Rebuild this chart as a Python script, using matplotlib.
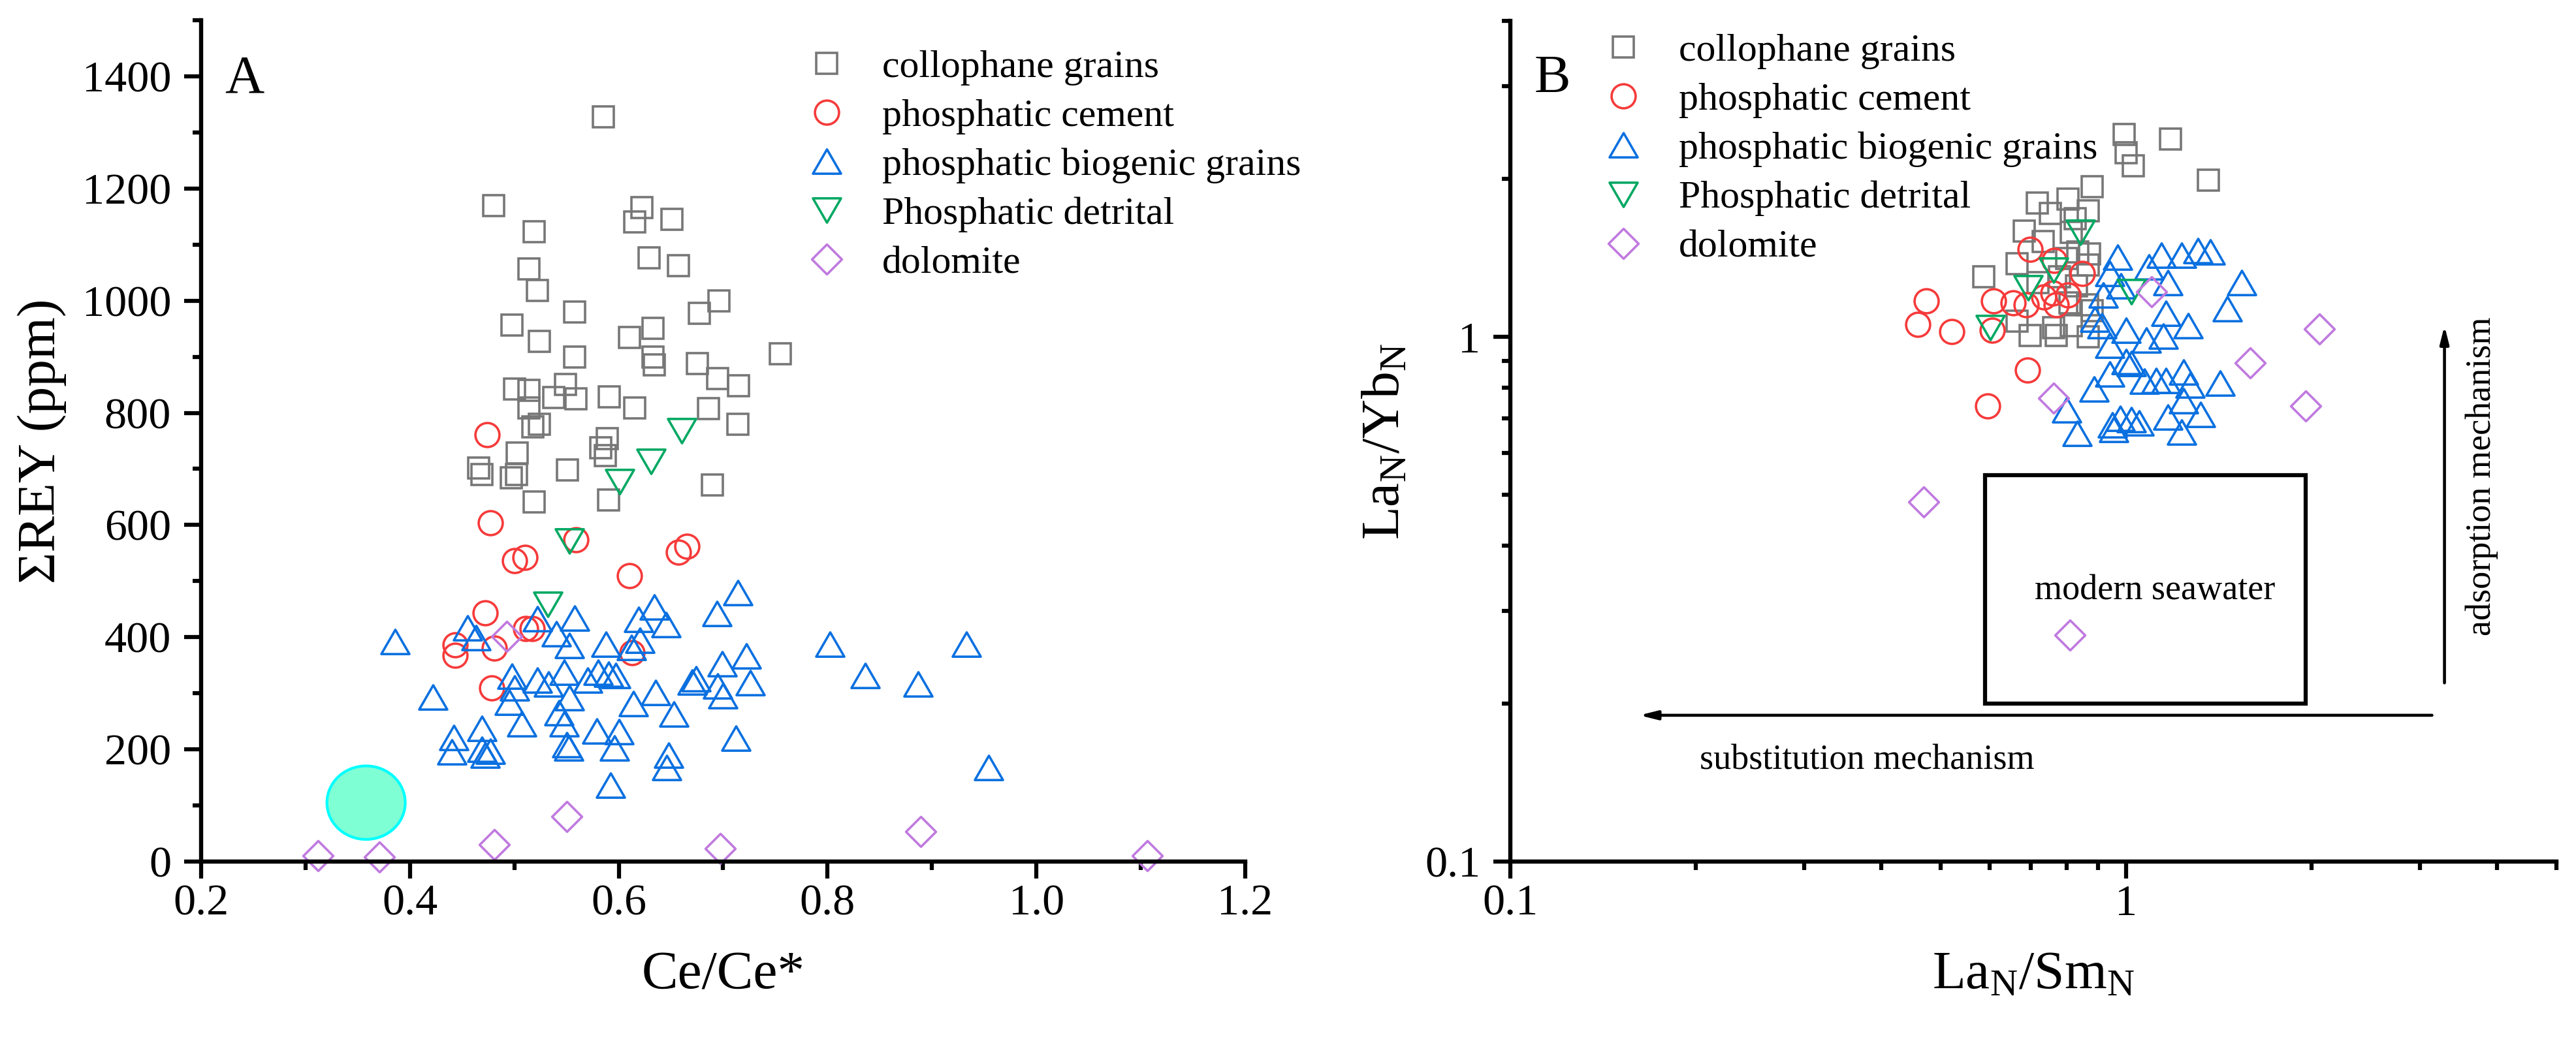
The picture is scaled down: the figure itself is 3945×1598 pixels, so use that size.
import matplotlib
matplotlib.use('Agg')
import matplotlib.pyplot as plt
from matplotlib.path import Path
from matplotlib.patches import Ellipse, Rectangle
from matplotlib.ticker import MultipleLocator, LogLocator, FuncFormatter, NullFormatter

plt.rcParams['font.family'] = ['Liberation Serif', 'DejaVu Serif']
plt.rcParams['mathtext.fontset'] = 'custom'
plt.rcParams['mathtext.rm'] = 'Liberation Serif'
plt.rcParams['mathtext.it'] = 'Liberation Serif:italic'

labels = ['collophane grains', 'phosphatic cement', 'phosphatic biogenic grains',
          'Phosphatic detrital', 'dolomite']
colors = ['#777777', '#F63A3A', '#0A70E0', '#00A862', '#C07ADF']

# ---- panel A : Ce/Ce* vs sum REY (ppm) ----
a_col_x = [0.585, 0.480, 0.519, 0.615, 0.622, 0.651, 0.514, 0.522, 0.629, 0.657, 0.696, 0.677,
           0.558, 0.498, 0.524, 0.558, 0.610, 0.633, 0.633, 0.634, 0.675, 0.695, 0.715, 0.755,
           0.500, 0.514, 0.514, 0.549, 0.538, 0.559, 0.591, 0.615, 0.686, 0.714, 0.518, 0.524,
           0.589, 0.583, 0.587, 0.466, 0.469, 0.503, 0.502, 0.497, 0.519, 0.551, 0.590, 0.690]
a_col_y = [1328, 1169, 1123, 1141, 1166, 1145, 1057, 1018, 1076, 1062, 1000, 977,
           980, 957, 928, 900, 935, 951, 899, 886, 888, 861, 848, 905,
           843, 840, 809, 851, 827, 825, 829, 809, 808, 780, 775, 780,
           754, 738, 724, 702, 690, 728, 690, 684, 641, 698, 645, 671]

a_cem_x = [0.474, 0.477, 0.500, 0.510, 0.559, 0.610, 0.657, 0.665, 0.472, 0.443, 0.443, 0.481,
           0.511, 0.517, 0.613, 0.478]
a_cem_y = [761, 604, 537, 542, 574, 510, 552, 562, 443, 386, 368, 381,
           416, 416, 372, 310]

a_bio_x = [0.386, 0.422, 0.455, 0.463, 0.498, 0.500, 0.495, 0.522, 0.522, 0.507, 0.540, 0.558,
           0.553, 0.548, 0.533, 0.570, 0.553, 0.543, 0.548, 0.552, 0.550, 0.588, 0.580, 0.590,
           0.597, 0.579, 0.600, 0.596, 0.592, 0.614, 0.619, 0.634, 0.645, 0.620, 0.612, 0.635,
           0.653, 0.648, 0.646, 0.674, 0.670, 0.699, 0.695, 0.700, 0.722, 0.726, 0.714, 0.694,
           0.712, 0.442, 0.440, 0.469, 0.469, 0.477, 0.472, 0.802, 0.836, 0.887, 0.933, 0.954]
a_bio_y = [392, 293, 417, 399, 330, 310, 284, 433, 323, 245, 406, 434,
           385, 337, 317, 323, 292, 265, 245, 203, 208, 387, 338, 334,
           332, 233, 231, 202, 136, 282, 432, 454, 422, 395, 382, 301,
           263, 190, 168, 326, 320, 353, 313, 296, 367, 319, 479, 442,
           220, 221, 195, 237, 200, 197, 190, 388, 332, 316, 387, 168]

a_det_x = [0.660, 0.631, 0.601, 0.553, 0.532]
a_det_y = [768, 713, 677, 571, 459]

a_dol_x = [0.312, 0.371, 0.481, 0.493, 0.550, 0.697, 0.889, 1.106]
a_dol_y = [10, 8, 30, 401, 80, 23, 54, 11]

seawater_ce = 0.358
seawater_rey = 105

# ---- panel B : LaN/SmN vs LaN/YbN ----
b_col_x = [0.994, 1.001, 1.027, 1.18, 1.36, 0.881, 0.804, 0.717, 0.754, 0.869, 0.826, 0.683,
           0.734, 0.814, 0.835, 0.665, 0.587, 0.869, 0.865, 0.665, 0.699, 0.762, 0.771, 0.814,
           0.869, 0.880, 0.810, 0.720, 0.780, 0.830, 0.800, 0.873]
b_col_y = [2.43, 2.24, 2.12, 2.38, 1.99, 1.93, 1.83, 1.80, 1.72, 1.74, 1.68, 1.59,
           1.52, 1.58, 1.45, 1.38, 1.30, 1.37, 1.15, 1.07, 1.006, 1.04, 1.006, 1.05,
           1.00, 1.12, 1.16, 1.27, 1.30, 1.25, 1.41, 1.44]

b_cem_x = [0.474, 0.459, 0.521, 0.607, 0.610, 0.655, 0.688, 0.699, 0.765, 0.850, 0.760, 0.805,
           0.736, 0.771, 0.692, 0.596]
b_cem_y = [1.17, 1.055, 1.024, 1.03, 1.17, 1.16, 1.15, 1.47, 1.40, 1.32, 1.21, 1.20,
           1.19, 1.15, 0.864, 0.739]

b_bio_x = [0.968, 1.14, 1.23, 1.31, 1.37, 1.54, 1.46, 0.942, 1.09, 0.919, 0.98, 1.16,
           1.26, 0.889, 0.913, 1.00, 1.15, 1.08, 0.942, 1.00, 0.942, 1.07, 0.888, 1.24,
           1.42, 1.27, 1.16, 1.24, 1.32, 1.17, 1.23, 0.979, 1.02, 1.05, 0.956, 0.832,
           0.80, 1.02, 1.12, 1.17, 0.95]
b_bio_y = [1.42, 1.43, 1.43, 1.46, 1.45, 1.27, 1.13, 1.32, 1.36, 1.20, 1.25, 1.11,
           1.05, 1.08, 1.05, 1.03, 1.004, 0.986, 0.963, 0.898, 0.85, 0.823, 0.795, 0.857,
           0.816, 0.81, 0.825, 0.756, 0.712, 0.704, 0.659, 0.70, 0.695, 0.686, 0.665, 0.654,
           0.726, 0.89, 0.826, 1.27, 0.68]

b_det_x = [0.843, 0.762, 0.694, 0.602, 1.02]
b_det_y = [1.58, 1.34, 1.24, 1.04, 1.22]

b_dol_x = [1.10, 0.762, 1.59, 1.96, 2.06, 0.469, 0.811]
b_dol_y = [1.22, 0.764, 0.893, 0.739, 1.035, 0.484, 0.270]

# modern seawater box (LaN/SmN range, LaN/YbN range)
box_x = [0.59, 1.96]
box_y = [0.20, 0.545]

# markers
tri_up = Path([(-1, -0.866), (1, -0.866), (0, 0.866), (-1, -0.866)], closed=True)
tri_dn = Path([(-1, 0.866), (1, 0.866), (0, -0.866), (-1, 0.866)], closed=True)
diamond = Path([(0, 1), (1, 0), (0, -1), (-1, 0), (0, 1)], closed=True)
markers = ['s', 'o', tri_up, tri_dn, diamond]
msizes = [23, 26.5, 31, 31, 33]
MEW = 2.6

FS_TICK = 49
FS_LABEL = 60
FS_LEG = 43
FS_NOTE = 39


def style_axes(ax):
    for s in ['top', 'right']:
        ax.spines[s].set_visible(False)
    for s in ['left', 'bottom']:
        ax.spines[s].set_linewidth(4.6)
    ax.tick_params(which='major', direction='out', length=19, width=4.5, labelsize=FS_TICK)
    ax.tick_params(which='minor', direction='out', length=9.5, width=4.5)
    ax.tick_params(axis='x', which='both', pad=6)
    ax.tick_params(axis='y', which='both', pad=14)


def scatter_all(ax, xs, ys):
    for i in range(5):
        ax.plot(xs[i], ys[i], linestyle='none', marker=markers[i], ms=msizes[i],
                mfc='none', mec=colors[i], mew=MEW, label=labels[i], clip_on=False)


def add_legend(ax, anchor):
    ax.legend(loc='upper left', bbox_to_anchor=anchor, frameon=False, fontsize=FS_LEG,
              numpoints=1, handlelength=1.0, handletextpad=0.92, labelspacing=0.34,
              borderpad=0, borderaxespad=0)


fig = plt.figure(figsize=(39.45, 15.98), dpi=100)

# ---------------- panel A ----------------
axA = fig.add_axes([0.07807, 0.17397, 0.40532, 0.80663])
style_axes(axA)
axA.add_patch(Ellipse((seawater_ce, seawater_rey), 0.075, 131, facecolor='#7FFFD4',
                      edgecolor='#00FFFF', lw=3))
scatter_all(axA,
            [a_col_x, a_cem_x, a_bio_x, a_det_x, a_dol_x],
            [a_col_y, a_cem_y, a_bio_y, a_det_y, a_dol_y])
axA.set_xlim(0.2, 1.2)
axA.set_ylim(0, 1500)
axA.xaxis.set_major_locator(MultipleLocator(0.2))
axA.xaxis.set_minor_locator(MultipleLocator(0.1))
axA.yaxis.set_major_locator(MultipleLocator(200))
axA.yaxis.set_minor_locator(MultipleLocator(100))
axA.xaxis.set_major_formatter(FuncFormatter(lambda v, p: f'{v:.1f}'))
axA.yaxis.set_major_formatter(FuncFormatter(lambda v, p: '' if v > 1450 else f'{v:.0f}'))
axA.set_xlabel('Ce/Ce*', fontsize=FS_LABEL, labelpad=30)
axA.set_ylabel('ΣREY (ppm)', fontsize=FS_LABEL, labelpad=17)
axA.text(0.0225, 0.914, 'A', transform=axA.transAxes, fontsize=60, va='baseline', ha='left')
add_legend(axA, (0.5804, 0.965))

# ---------------- panel B ----------------
axB = fig.add_axes([0.58631, 0.17397, 0.40608, 0.80600])
style_axes(axB)
axB.set_xscale('log')
axB.set_yscale('log')
axB.add_patch(Rectangle((box_x[0], box_y[0]), box_x[1] - box_x[0], box_y[1] - box_y[0],
                        fill=False, edgecolor='black', lw=4.5))
scatter_all(axB,
            [b_col_x, b_cem_x, b_bio_x, b_det_x, b_dol_x],
            [b_col_y, b_cem_y, b_bio_y, b_det_y, b_dol_y])
axB.set_xlim(0.1, 5)
axB.set_ylim(0.1, 4)
for axis in [axB.xaxis, axB.yaxis]:
    axis.set_major_locator(LogLocator(base=10, subs=(1.0,)))
    axis.set_minor_locator(LogLocator(base=10, subs=range(2, 10)))
    axis.set_major_formatter(FuncFormatter(lambda v, p: f'{v:g}'))
    axis.set_minor_formatter(NullFormatter())
axB.set_xlabel(r'$\mathregular{La_N/Sm_N}$', fontsize=FS_LABEL, labelpad=30)
axB.set_ylabel(r'$\mathregular{La_N/Yb_N}$', fontsize=FS_LABEL, labelpad=15)
axB.text(0.023, 0.9155, 'B', transform=axB.transAxes, fontsize=60, va='baseline', ha='left')
add_legend(axB, (0.0893, 0.985))

arrow = dict(arrowstyle='-|>,head_length=1.6,head_width=0.4', lw=3.3, color='black',
             shrinkA=0, shrinkB=0)
axB.annotate('', xy=(0.162, 0.19), xytext=(3.14, 0.19), arrowprops=arrow)
axB.annotate('', xy=(3.29, 1.05), xytext=(3.29, 0.219), arrowprops=arrow)
axB.text(0.71, 0.316, 'modern seawater', fontsize=FS_NOTE, ha='left', va='baseline')
axB.text(0.203, 0.150, 'substitution mechanism', fontsize=FS_NOTE, ha='left', va='baseline')
axB.text(3.905, 0.269, 'adsorption mechanism', fontsize=FS_NOTE, ha='left', va='baseline',
         rotation=90, rotation_mode='anchor')

fig.savefig('out.png', dpi=100)
